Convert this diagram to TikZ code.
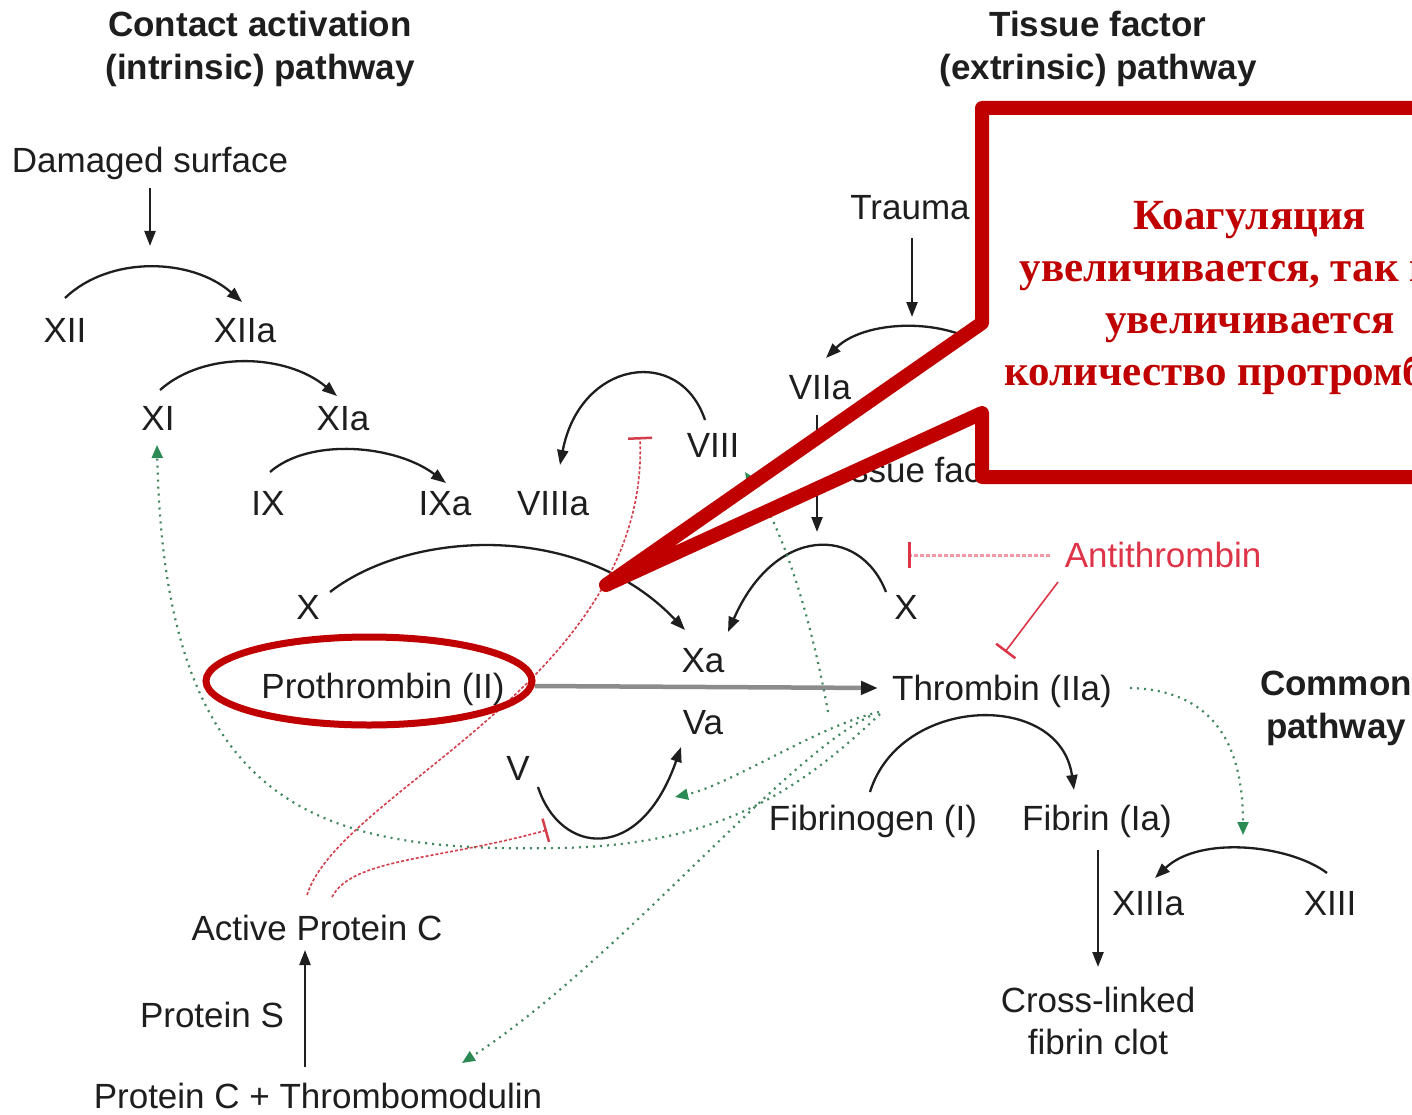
\documentclass[tikz,border=0pt]{standalone}
\usepackage{fontspec}
\setmainfont{Liberation Sans}
\newfontfamily\calloutfont{Liberation Serif}
\usetikzlibrary{arrows.meta,calc}

\definecolor{ink}{HTML}{1E1E1E}
\definecolor{callred}{HTML}{C00000}
\definecolor{inhib}{RGB}{212,62,74}
\definecolor{antired}{RGB}{222,52,72}
\definecolor{actgreen}{RGB}{44,138,84}
\definecolor{flowgray}{RGB}{140,140,140}

\begin{document}
\begin{tikzpicture}[x=1pt,y=-1pt,
  lbl/.style={font=\fontsize{35}{42}\selectfont, text=ink, inner sep=0pt,
              text height=25pt, text depth=0pt},
  multi/.style={font=\fontsize{35}{42}\selectfont, text=ink, inner sep=0pt, align=center},
  head/.style={font=\fontsize{35}{43}\selectfont\bfseries, text=ink, inner sep=0pt, align=center},
  conv/.style={draw=ink, line width=2.3pt, -{Triangle[length=15pt,width=11pt]}},
  mainflow/.style={draw=flowgray, line width=4.5pt,
                   -{Triangle[length=17pt,width=13pt,color=ink]}},
  actv/.style={draw=actgreen!75!gray, line width=2.2pt, dash pattern=on 2pt off 5pt,
               -{Triangle[length=13pt,width=11pt,color=actgreen,fill=actgreen]}},
  inhdot/.style={draw=inhib, line width=1.6pt, dash pattern=on 3pt off 2pt,
                 -{Bar[width=24pt,line width=2.5pt]}},
  inhdash/.style={draw=antired!50, line width=3pt, dash pattern=on 4pt off 2pt,
                  -{Bar[width=26pt,line width=3pt,color=antired]}},
  inhline/.style={draw=antired, line width=1.6pt, -{Bar[width=24pt,line width=2.5pt]}},
  ring/.style={draw=callred, line width=7pt},
  callout/.style={draw=callred, fill=white, line width=14pt, line join=round},
  notetext/.style={font=\calloutfont\bfseries\fontsize{43}{52}\selectfont,
                   text=callred, inner sep=0pt, align=center}
]
\useasboundingbox (0,0) rectangle (1412,1115);
\fill[white] (0,0) rectangle (1412,1115);
\begin{scope}
\clip (0,0) rectangle (1412,1115);

% pathway headings
\node[head] (intr) at (260,49) {Contact activation\\(intrinsic) pathway};
\node[head] (extr) at (1098,49) {Tissue factor\\(extrinsic) pathway};
\node[head] (common) at (1336,708) {Common\\pathway};

% factors
\node[lbl] (ds) at (150,160) {Damaged surface};
\node[lbl] (xii) at (65,330) {XII};
\node[lbl] (xiia) at (245,330) {XIIa};
\node[lbl] (xi) at (158,418) {XI};
\node[lbl] (xia) at (343,418) {XIa};
\node[lbl] (ix) at (268,503) {IX};
\node[lbl] (ixa) at (445,503) {IXa};
\node[lbl] (viiia) at (553,503) {VIIIa};
\node[lbl] (viii) at (713,445) {VIII};
\node[lbl] (trauma) at (910,207) {Trauma};
\node[lbl] (viia) at (820,387) {VIIa};
\node[lbl, anchor=west] (tf) at (823,470) {Tissue factor};
\node[lbl] (xl) at (308,607) {X};
\node[lbl] (xr) at (906,607) {X};
\node[lbl, text=antired] (anti) at (1163,555) {Antithrombin};
\node[lbl] (xa) at (703,660) {Xa};
\node[lbl] (va) at (703,722) {Va};
\node[lbl] (pro) at (383,686) {Prothrombin (II)};
\node[lbl] (thr) at (1002,688) {Thrombin (IIa)};
\node[lbl] (v) at (518,768) {V};
\node[lbl] (fbg) at (873,818) {Fibrinogen (I)};
\node[lbl] (fib) at (1097,818) {Fibrin (Ia)};
\node[lbl] (xiiia) at (1148,903) {XIIIa};
\node[lbl] (xiii) at (1330,903) {XIII};
\node[multi] (clot) at (1098,1021) {Cross-linked\\fibrin clot};
\node[lbl] (apc) at (317,928) {Active Protein C};
\node[lbl] (ps) at (212,1015) {Protein S};
\node[lbl] (pcm) at (318,1096) {Protein C + Thrombomodulin};

% conversions
\draw[conv] ($(ds)+(0,28)$) -- ($(ds)+(0,86)$);
\draw[conv] ($(xii)+(0,-32)$) .. controls +(45,-43) and +(-50,-44) .. ($(xiia)+(-3,-28)$);
\draw[conv] ($(xi)+(2,-28)$) .. controls +(45,-40) and +(-50,-42) .. ($(xia)+(-6,-22)$);
\draw[conv] ($(ix)+(2,-31)$) .. controls +(40,-35) and +(-50,-38) .. ($(ixa)+(1,-20)$);
\draw[conv] ($(viii)+(-8,-25)$) .. controls +(-25,-75) and +(20,-105) .. ($(viiia)+(7,-38)$);
\draw[conv] ($(trauma)+(2,31)$) -- ($(trauma)+(2,110)$);
\coordinate (vii) at (1000,360);
\draw[conv] (vii) .. controls +(-40,-45) and +(40,-40) .. ($(viia)+(6,-29)$);
\draw[conv] ($(viia)+(-3,28)$) -- ($(viia)+(-3,145)$);
\draw[conv] ($(xr)+(-20,-15)$) .. controls +(-26,-67) and +(47,-107) .. ($(xa)+(25,-28)$);
\draw[conv] ($(xl)+(22,-15)$) .. controls +(80,-62) and +(-105,-110) .. ($(xa)+(-18,-30)$);
\draw[conv] ($(v)+(20,19)$) .. controls +(22,68) and +(-41,118) .. ($(va)+(-22,25)$);
\draw[conv] ($(fbg)+(-3,-26)$) .. controls +(30,-97) and +(-14,-100) .. ($(fib)+(-23,-28)$);
\draw[conv] ($(xiii)+(-3,-30)$) .. controls +(-37,-28) and +(45,-43) .. ($(xiiia)+(7,-25)$);
\draw[conv] ($(fib)+(1,32)$) -- ($(clot)+(0,-54)$);
\draw[conv] ($(pcm)+(-13,-29)$) -- ($(apc)+(-12,22)$);
\draw[mainflow] ($(pro)+(152,0)$) -- ($(thr)+(-124,0)$);

% thrombin feedback activation
\draw[actv] ($(thr)+(-174,24)$) .. controls +(-13,-72) and +(45,68) .. ($(viii)+(32,27)$);
\draw[actv] ($(thr)+(-123,24)$) .. controls +(-59,13) and +(55,-12) .. ($(va)+(-28,75)$);
\draw[actv] ($(thr)+(-122,26)$) .. controls +(-80,76) and +(160,-3) .. ($(v)+(42,80)$)
            .. controls +(-230,4) and +(8,375) .. ($(xi)+(-1,27)$);
\draw[actv] ($(thr)+(-132,28)$) .. controls +(-90,44) and +(158,-103) .. ($(pcm)+(144,-33)$);
\draw[actv] ($(thr)+(128,0)$) .. controls +(80,2) and +(0,-95) .. ($(xiii)+(-87,-68)$);

% inhibition
\draw[inhdash] ($(anti)+(-113,0)$) -- ($(anti)+(-255,0)$);
\draw[inhline] ($(anti)+(-105,27)$) -- ($(anti)+(-158,97)$);
\draw[inhdot] ($(apc)+(-10,-33)$) .. controls +(33,-105) and +(10,243) .. ($(viii)+(-73,-8)$);
\draw[inhdot] ($(apc)+(15,-31)$) .. controls +(20,-39) and +(-107,30) .. ($(v)+(29,62)$);

% highlight and note
\draw[ring] ($(pro)+(-14,-5)$) ellipse [x radius=163, y radius=44];
\draw[callout] (1440,108) -- (982,108) -- (982,323) -- (606,585) -- (982,413)
               -- (982,477) -- (1440,477) -- cycle;
\node[notetext] (note) at (1250,298)
  {Коагуляция\\увеличивается, так как\\увеличивается\\количество протромбина};
\end{scope}
\end{tikzpicture}
\end{document}
